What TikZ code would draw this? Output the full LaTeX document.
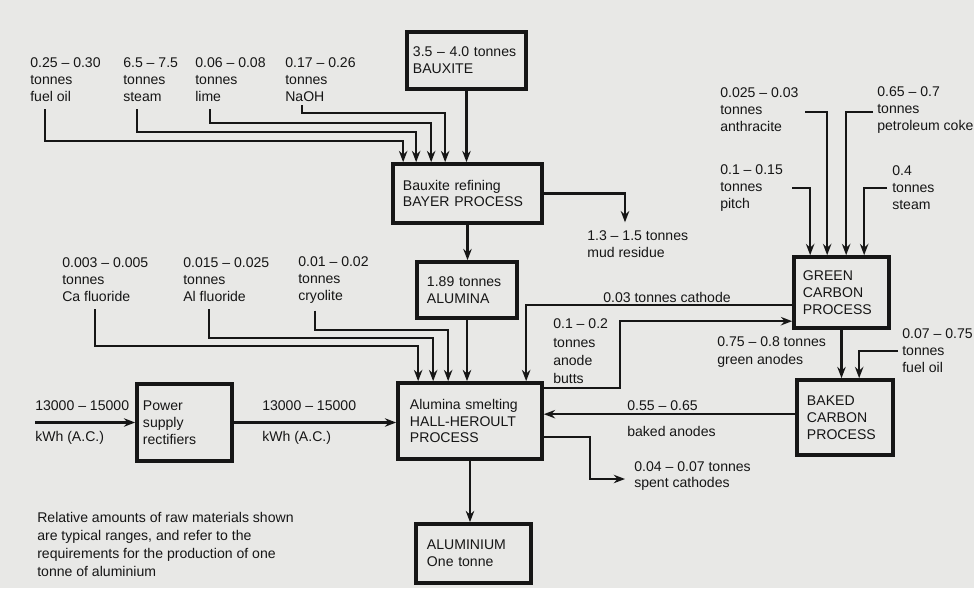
\documentclass[tikz,border=0pt]{standalone}
\usepackage{fontspec}
\setmainfont{Liberation Sans}
\definecolor{paper}{HTML}{E8E8E6}
\definecolor{ink}{HTML}{161616}
\usetikzlibrary{arrows.meta, calc, positioning}

\begin{document}
\begin{tikzpicture}[x=0.025cm, y=-0.025cm, ink,
      font=\fontsize{10}{12}\selectfont,
      procbox/.style={draw=ink, line width=2.6pt, align=left, inner ysep=0pt},
      qty/.style={anchor=west, align=left, inner sep=0pt},
      feed/.style={draw=ink, line width=1.5pt, -{Stealth[length=8pt, width=6pt]}}]
   % Page
   \fill[paper] (0,0) rectangle (974,588);
   \useasboundingbox (0,0) rectangle (974,588);

   % Process boxes
   \node[procbox, text width=2.675cm, inner xsep=0.15cm, minimum height=1.425cm] (bauxite) at (466.5,60.5) {3.5 – 4.0 tonnes\\BAUXITE};
   \node[procbox, text width=3.225cm, inner xsep=0.25cm, minimum height=1.475cm] (bayer) at (467.5,193.5) {Bauxite refining\\BAYER PROCESS};
   \node[procbox, text width=2.0cm, inner xsep=0.25cm, minimum height=1.4cm] (alumina) at (467,290) {1.89 tonnes\\ALUMINA};
   \node[procbox, text width=3.0cm, inner xsep=0.3cm, minimum height=1.9cm] (hall) at (470,421) {Alumina smelting\\HALL-HEROULT\\PROCESS};
   \node[procbox, text width=2.325cm, inner xsep=0.275cm, minimum height=1.475cm] (aluminium) at (473.5,553.5) {ALUMINIUM\\One tonne};
   \node[procbox, text width=2.075cm, inner xsep=0.15cm, minimum height=1.925cm] (power) at (184.5,422.5) {Power\\supply\\rectifiers};
   \node[procbox, text width=1.925cm, inner xsep=0.225cm, minimum height=1.775cm] (green) at (841.5,292.5) {GREEN\\CARBON\\PROCESS};
   \node[procbox, text width=1.9cm, inner xsep=0.25cm, minimum height=1.875cm] (baked) at (845,417.5) {BAKED\\CARBON\\PROCESS};

   % Raw materials for refining
   \node[qty] (fueloil) at (30,80) {0.25 – 0.30\\tonnes\\fuel oil};
   \node[qty] (steam) at (123,80) {6.5 – 7.5\\tonnes\\steam};
   \node[qty] (lime) at (195,80) {0.06 – 0.08\\tonnes\\lime};
   \node[qty] (naoh) at (285,80) {0.17 – 0.26\\tonnes\\NaOH};
   \node[qty] (mud) at (587,244) {1.3 – 1.5 tonnes\\mud residue};

   % Raw materials for smelting
   \node[qty] (cafl) at (62,280) {0.003 – 0.005\\tonnes\\Ca fluoride};
   \node[qty] (alfl) at (183,280) {0.015 – 0.025\\tonnes\\Al fluoride};
   \node[qty] (cryo) at (298,280) {0.01 – 0.02\\tonnes\\cryolite};

   % Carbon side
   \node[qty] (anthr) at (720,110) {0.025 – 0.03\\tonnes\\anthracite};
   \node[qty] (coke) at (877,110) {0.65 – 0.7\\tonnes\\petroleum coke};
   \node[qty] (pitch) at (720,188) {0.1 – 0.15\\tonnes\\pitch};
   \node[qty] (steamc) at (892,188) {0.4\\tonnes\\steam};
   \node[qty] (cathode) at (603,297) {0.03 tonnes cathode};
   \node[qty, font=\fontsize{10}{13}\selectfont] (butts) at (553,351.5) {0.1 – 0.2\\tonnes\\anode\\butts};
   \node[qty, font=\fontsize{10}{13}\selectfont] (granodes) at (717,352) {0.75 – 0.8 tonnes\\green anodes};
   \node[qty] (fuelb) at (902,351) {0.07 – 0.75\\tonnes\\fuel oil};
   \node[qty] (bakedq) at (627,406) {0.55 – 0.65};
   \node[qty] (bakedn) at (627,431) {baked anodes};
   \node[qty] (spent) at (634,476) {0.04 – 0.07 tonnes\\spent cathodes};

   % Power
   \coordinate (acin) at (35,422.5);
   \node[qty] (acq) at (35,406) {13000 – 15000};
   \node[qty] (acu) at (35,438) {kWh (A.C.)};
   \node[qty] (dcq) at (262,406) {13000 – 15000};
   \node[qty] (dcu) at (262,438) {kWh (A.C.)};

   % Note
   \node[qty, font=\fontsize{10}{12.8}\selectfont] (note) at (37,544) {Relative amounts of raw materials shown\\are typical ranges, and refer to the\\requirements for the production of one\\tonne of aluminium};

   % Feeds into Bayer process
   \draw[feed] ($(fueloil.south west)+(15,7)$) |- ($(bayer.north west)+(12,-21)$) -- ($(bayer.north west)+(12,0)$);
   \draw[feed] ($(steam.south west)+(14,7)$) |- ($(bayer.north west)+(25,-30)$) -- ($(bayer.north west)+(25,0)$);
   \draw[feed] ($(lime.south west)+(15,7)$) |- ($(bayer.north west)+(40,-39)$) -- ($(bayer.north west)+(40,0)$);
   \draw[feed] ($(naoh.south west)+(17,3)$) |- ($(bayer.north west)+(54,-49)$) -- ($(bayer.north west)+(54,0)$);
   \draw[feed] (bauxite.south) -- (bauxite.south |- bayer.north);
   \draw[feed] (bayer.east) -| ($(mud.north west)+(38,-8)$);
   \draw[feed] (bayer.south) -- (bayer.south |- alumina.north);

   % Feeds into smelting
   \draw[feed] (alumina.south) -- (alumina.south |- hall.north);
   \draw[feed] ($(cafl.south west)+(33,7)$) |- ($(hall.north west)+(22,-35)$) -- ($(hall.north west)+(22,0)$);
   \draw[feed] ($(alfl.south west)+(26,7)$) |- ($(hall.north west)+(37,-43)$) -- ($(hall.north west)+(37,0)$);
   \draw[feed] ($(cryo.south west)+(17,7)$) |- ($(hall.north west)+(52,-51)$) -- ($(hall.north west)+(52,0)$);
   \draw[feed] ($(green.north west)+(0,50)$) -| ($(hall.north west)+(130,0)$);
   \draw[feed] ($(hall.north east)+(0,7)$) -- ++(76,0) |- ($(green.north west)+(0,66)$);
   \draw[feed] (acin) -- (power.west);
   \draw[feed] (power.east) -- (power.east -| hall.west);
   \coordinate (bkout) at ($(baked.north west)+(0,36)$);
   \draw[feed] (bkout) -- (bkout -| hall.east);
   \draw[feed] ($(hall.north east)+(0,56)$) -- ++(46,0) |- ($(spent.west)+(-9,3)$);
   \draw[feed] (hall.south) -- (hall.south |- aluminium.north);

   % Feeds into carbon processes
   \draw[feed] ($(pitch.west)+(72,0)$) -| ($(green.north west)+(18,0)$);
   \draw[feed] ($(anthr.west)+(85,2)$) -| ($(green.north west)+(35,0)$);
   \draw[feed] ($(coke.west)+(-4,2)$) -| ($(green.north west)+(54,0)$);
   \draw[feed] ($(steamc.west)+(-5,0)$) -| ($(green.north west)+(72,0)$);
   \draw[feed] (green.south) -- (green.south |- baked.north);
   \draw[feed] ($(fuelb.west)+(-4,0)$) -| ($(baked.north west)+(64,0)$);
\end{tikzpicture}
\end{document}
